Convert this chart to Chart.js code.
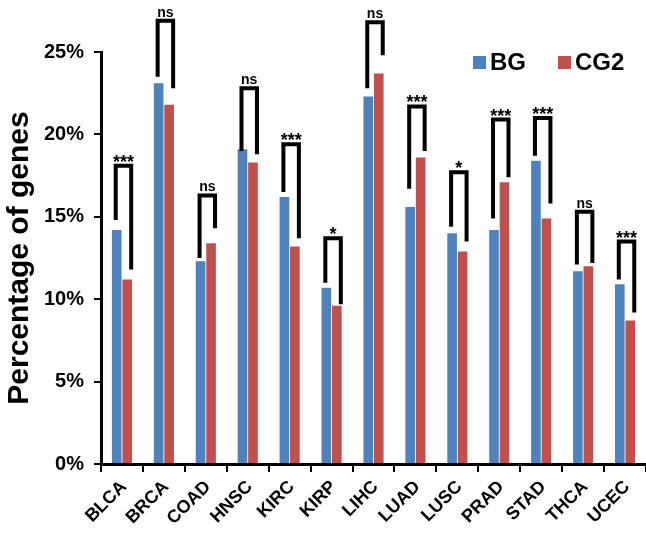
<!DOCTYPE html>
<html>
<head>
<meta charset="utf-8">
<script src="https://cdn.jsdelivr.net/npm/chart.js@4"></script>
<style>
  html, body { margin: 0; padding: 0; background: #fff; }
  #wrap { width: 646px; height: 542px; position: relative; }
</style>
</head>
<body>
<div id="wrap"><canvas id="chart"></canvas></div>
<script>
const categories = ['BLCA', 'BRCA', 'COAD', 'HNSC', 'KIRC', 'KIRP', 'LIHC', 'LUAD', 'LUSC', 'PRAD', 'STAD', 'THCA', 'UCEC'];
const bgValues = [14.2, 23.1, 12.3, 19.1, 16.2, 10.7, 22.3, 15.6, 14.0, 14.2, 18.4, 11.7, 10.9];
const cg2Values = [11.2, 21.8, 13.4, 18.3, 13.2, 9.6, 23.7, 18.6, 12.9, 17.1, 14.9, 12.0, 8.7];
const yTickValues = [0, 5, 10, 15, 20, 25];

// significance brackets (values in %)
const sigLabels = ['***', 'ns', 'ns', 'ns', '***', '*', 'ns', '***', '*', '***', '***', 'ns', '***'];
const bracketTop = [18.1, 26.9, 16.3, 22.8, 19.4, 13.7, 26.8, 21.7, 17.7, 20.9, 21.0, 15.3, 13.5];
const legEndBG = [14.8, 23.5, 12.5, 19.0, 16.5, 11.0, 22.8, 16.7, 14.4, 14.9, 18.7, 12.1, 11.2];
const legEndCG2 = [11.8, 22.8, 14.3, 18.8, 13.7, 9.7, 24.8, 19.0, 13.5, 17.4, 15.8, 12.2, 9.2];

const FONT = "'Liberation Sans', Arial, sans-serif";

const bracketPlugin = {
  id: 'brackets',
  afterDatasetsDraw(chart) {
    const ctx = chart.ctx;
    const y = chart.scales.y;
    const m0 = chart.getDatasetMeta(0).data;
    const m1 = chart.getDatasetMeta(1).data;
    ctx.save();
    ctx.strokeStyle = '#000';
    ctx.lineWidth = 4;
    ctx.lineJoin = 'miter';
    ctx.fillStyle = '#000';
    ctx.textAlign = 'center';
    ctx.textBaseline = 'alphabetic';
    categories.forEach((c, i) => {
      const x1 = m0[i].x - 1;
      const x2 = m1[i].x + 4;
      const top = y.getPixelForValue(bracketTop[i]);
      ctx.beginPath();
      ctx.moveTo(x1, y.getPixelForValue(legEndBG[i]));
      ctx.lineTo(x1, top);
      ctx.lineTo(x2, top);
      ctx.lineTo(x2, y.getPixelForValue(legEndCG2[i]));
      ctx.stroke();
      const stars = sigLabels[i].includes('*');
      ctx.font = 'bold ' + (stars ? 18 : 14) + 'px ' + FONT;
      ctx.fillText(sigLabels[i], (x1 + x2) / 2, stars ? top + 2 : top - 4);
    });
    ctx.restore();
  }
};

// category names, slanted at 45 degrees under each tick
const xLabelPlugin = {
  id: 'xLabels',
  afterDraw(chart) {
    const ctx = chart.ctx;
    const x = chart.scales.x;
    ctx.save();
    ctx.font = 'bold 18px ' + FONT;
    ctx.fillStyle = '#000';
    ctx.textAlign = 'right';
    ctx.textBaseline = 'middle';
    categories.forEach((name, i) => {
      ctx.save();
      ctx.translate(x.getPixelForTick(i) + 2, x.top + 20);
      ctx.rotate(-Math.PI / 4);
      ctx.fillText(name, 0, 0);
      ctx.restore();
    });
    ctx.restore();
  }
};

const legendPlugin = {
  id: 'customLegend',
  afterDraw(chart) {
    const ctx = chart.ctx;
    const spots = [{ x: 473, y: 56 }, { x: 558, y: 56 }];
    ctx.save();
    ctx.font = 'bold 24px ' + FONT;
    ctx.textBaseline = 'middle';
    ctx.textAlign = 'left';
    chart.data.datasets.forEach((ds, i) => {
      const s = spots[i];
      ctx.fillStyle = ds.backgroundColor;
      ctx.fillRect(s.x, s.y, 13, 13);
      ctx.fillStyle = '#000';
      ctx.fillText(ds.label, s.x + 17, s.y + 7);
    });
    ctx.restore();
  }
};

new Chart(document.getElementById('chart'), {
  type: 'bar',
  data: {
    labels: categories,
    datasets: [
      { label: 'BG', data: bgValues, backgroundColor: '#4F81BD' },
      { label: 'CG2', data: cg2Values, backgroundColor: '#C0504D' }
    ]
  },
  options: {
    responsive: true,
    maintainAspectRatio: false,
    animation: false,
    categoryPercentage: 0.5,
    barPercentage: 0.92,
    layout: { padding: { top: 52, right: 0, left: 0, bottom: 0 } },
    plugins: {
      legend: { display: false },
      tooltip: { enabled: false }
    },
    scales: {
      x: {
        afterFit: s => { s.height = 78; },
        border: { color: '#000', width: 3 },
        grid: { drawOnChartArea: false, color: '#000', lineWidth: 2, tickLength: 8 },
        ticks: { display: false }
      },
      y: {
        min: 0,
        max: 25,
        afterFit: s => { s.width = 101; },
        afterBuildTicks: s => { s.ticks = yTickValues.map(v => ({ value: v })); },
        border: { color: '#000', width: 3 },
        grid: { drawOnChartArea: false, color: '#000', lineWidth: 2, tickLength: 7 },
        ticks: {
          color: '#000',
          font: { family: FONT, size: 20, weight: 'bold' },
          padding: 10,
          callback: v => v + '%'
        },
        title: {
          display: true,
          text: 'Percentage of genes',
          color: '#000',
          font: { family: FONT, size: 30, weight: 'bold' },
          padding: { top: 2, bottom: 0 }
        }
      }
    }
  },
  plugins: [bracketPlugin, xLabelPlugin, legendPlugin]
});
</script>
</body>
</html>
